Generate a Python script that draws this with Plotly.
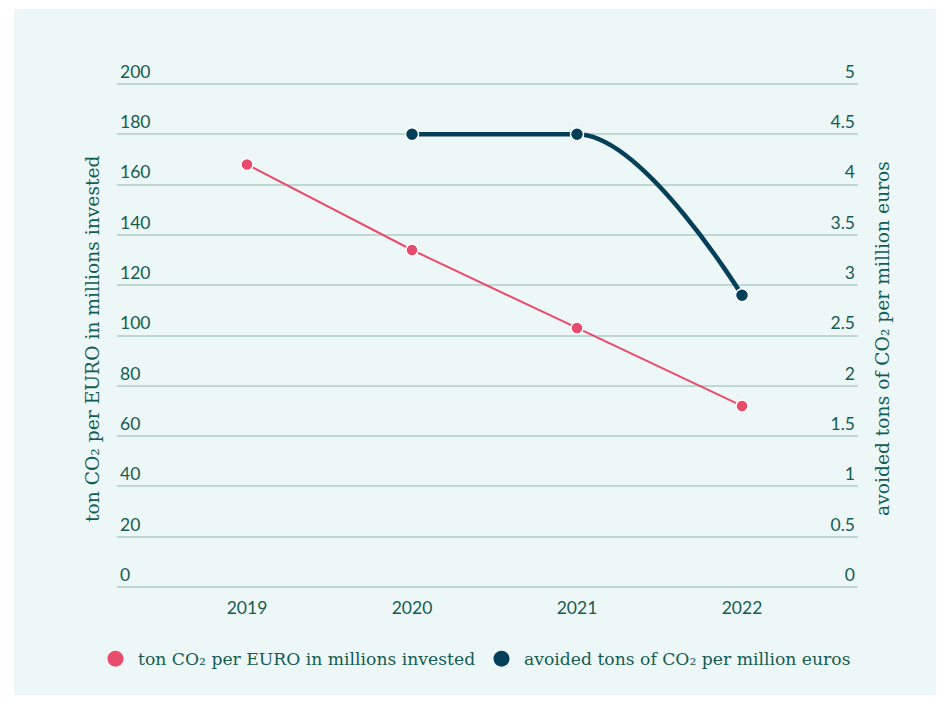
import plotly.graph_objects as go

years = [2019, 2020, 2021, 2022]
co2_per_euro = [168, 134, 103, 72]
avoided_years = [2020, 2021, 2022]
avoided_co2 = [4.5, 4.5, 2.9]

left_ticks = list(range(0, 201, 20))
right_ticks = [0, 0.5, 1, 1.5, 2, 2.5, 3, 3.5, 4, 4.5, 5]
right_labels = ["0", "0.5", "1", "1.5", "2", "2.5", "3", "3.5", "4", "4.5", "5"]

name_pink = "ton CO₂ per EURO in millions invested"
name_dark = "avoided tons of CO₂ per million euros"

PINK = "#e94b6d"
DARK = "#033f59"
TEXT = "#135c52"
GRID = "#bfd7d3"
PANEL = "#eef7f8"


def spline_path(xs, ys, smoothing=1.5):
    """Highcharts-style spline control points, in data units."""
    n = len(xs)
    ctrl = []
    for i in range(n):
        if i == 0 or i == n - 1:
            ctrl.append(None)
            continue
        px, py = xs[i], ys[i]
        lx, ly = xs[i - 1], ys[i - 1]
        nx, ny = xs[i + 1], ys[i + 1]
        d = smoothing + 1
        lcx = (smoothing * px + lx) / d
        lcy = (smoothing * py + ly) / d
        rcx = (smoothing * px + nx) / d
        rcy = (smoothing * py + ny) / d
        if rcx != lcx:
            corr = (rcy - lcy) * (rcx - px) / (rcx - lcx) + py - rcy
            lcy += corr
            rcy += corr
        if lcy > max(ly, py):
            lcy = max(ly, py)
            rcy = 2 * py - lcy
        elif lcy < min(ly, py):
            lcy = min(ly, py)
            rcy = 2 * py - lcy
        if rcy > max(ny, py):
            rcy = max(ny, py)
            lcy = 2 * py - rcy
        elif rcy < min(ny, py):
            rcy = min(ny, py)
            lcy = 2 * py - rcy
        ctrl.append((lcx, lcy, rcx, rcy))
    path = f"M {xs[0]},{ys[0]}"
    for i in range(1, n):
        c0 = ctrl[i - 1]
        c1 = ctrl[i]
        ax, ay = (c0[2], c0[3]) if c0 else (xs[i - 1], ys[i - 1])
        bx, by = (c1[0], c1[1]) if c1 else (xs[i], ys[i])
        path += f" C {ax},{ay} {bx},{by} {xs[i]},{ys[i]}"
    return path


fig = go.Figure()

# pink series on the left axis (yaxis2)
fig.add_trace(go.Scatter(
    x=years, y=co2_per_euro, mode="lines+markers", showlegend=False,
    line=dict(color=PINK, width=2),
    marker=dict(color=PINK, size=12, line=dict(color="white", width=1.5)),
    yaxis="y2", hoverinfo="skip"))

# dark series on the right axis (primary yaxis)
fig.add_trace(go.Scatter(
    x=avoided_years, y=avoided_co2, mode="markers", showlegend=False,
    marker=dict(color=DARK, size=13, line=dict(color="white", width=1.5)),
    yaxis="y", hoverinfo="skip"))

# legend entries
fig.add_trace(go.Scatter(x=[None], y=[None], mode="markers", name=name_pink,
                         marker=dict(color=PINK, size=20), yaxis="y2",
                         legend="legend"))
fig.add_trace(go.Scatter(x=[None], y=[None], mode="markers", name=name_dark,
                         marker=dict(color=DARK, size=20), yaxis="y",
                         legend="legend2"))

L, R, T, B = 117, 858, 48, 589
W, H = 944, 702
pw, ph = R - L, B - T
ZERO_PX = 587          # pixel row of value 0
LEFT_PX_PER_UNIT = 503 / 200
RIGHT_PX_PER_UNIT = 503 / 5


def px_x(p):
    return (p - L) / pw


def px_y(p):
    return (B - p) / ph


left_range = [-(B - ZERO_PX) / LEFT_PX_PER_UNIT, (ZERO_PX - T) / LEFT_PX_PER_UNIT]
right_range = [-(B - ZERO_PX) / RIGHT_PX_PER_UNIT, (ZERO_PX - T) / RIGHT_PX_PER_UNIT]

shapes = [
    dict(type="rect", xref="paper", yref="paper", layer="below",
         x0=px_x(14), x1=px_x(936), y0=px_y(695), y1=px_y(9),
         fillcolor=PANEL, line=dict(width=0)),
    dict(type="path", xref="x", yref="y", layer="between",
         path=spline_path(avoided_years, avoided_co2),
         line=dict(color=DARK, width=4.5)),
]

title_font = dict(family="DejaVu Serif", size=18.7, color=TEXT)
annotations = [
    dict(text=name_pink, xref="paper", yref="paper", x=px_x(93), y=px_y(339),
         textangle=-90, showarrow=False, font=title_font,
         xanchor="center", yanchor="middle"),
    dict(text=name_dark, xref="paper", yref="paper", x=px_x(883), y=px_y(339),
         textangle=-90, showarrow=False, font=title_font,
         xanchor="center", yanchor="middle"),
]

tick_font = dict(family="Lato", size=17.5, color=TEXT)
legend_font = dict(family="DejaVu Serif", size=17.2, color=TEXT)

fig.update_layout(
    width=W, height=H,
    margin=dict(l=L, r=W - R, t=T, b=H - B, pad=0),
    paper_bgcolor="white", plot_bgcolor="rgba(0,0,0,0)",
    shapes=shapes, annotations=annotations,
    showlegend=True,
    legend=dict(orientation="h", x=px_x(93), xanchor="left",
                y=px_y(659), yanchor="middle", font=legend_font,
                itemwidth=35,
                bgcolor="rgba(0,0,0,0)", itemclick=False),
    legend2=dict(orientation="h", x=px_x(479), xanchor="left",
                 y=px_y(659), yanchor="middle", font=legend_font,
                 itemwidth=35,
                 bgcolor="rgba(0,0,0,0)", itemclick=False),
    xaxis=dict(range=[2018.212, 2022.703], tickvals=years,
               ticktext=[str(y) for y in years], showgrid=False,
               zeroline=False, showline=False, ticks="",
               ticklabelstandoff=6,
               tickfont=tick_font, fixedrange=True),
    yaxis=dict(range=right_range, tickvals=right_ticks,
               ticktext=right_labels, side="right",
               showgrid=True, gridcolor=GRID, gridwidth=2,
               zeroline=False, showline=False, ticks="",
               ticklabelposition="inside top", tickfont=tick_font,
               fixedrange=True),
    yaxis2=dict(range=left_range, tickvals=left_ticks, side="left",
                overlaying="y", showgrid=False, zeroline=False,
                showline=False, ticks="", ticklabelposition="inside top",
                tickfont=tick_font, fixedrange=True),
)

fig.write_html("out.html", config={"displayModeBar": False},
               post_script="document.body.style.margin='0';")
